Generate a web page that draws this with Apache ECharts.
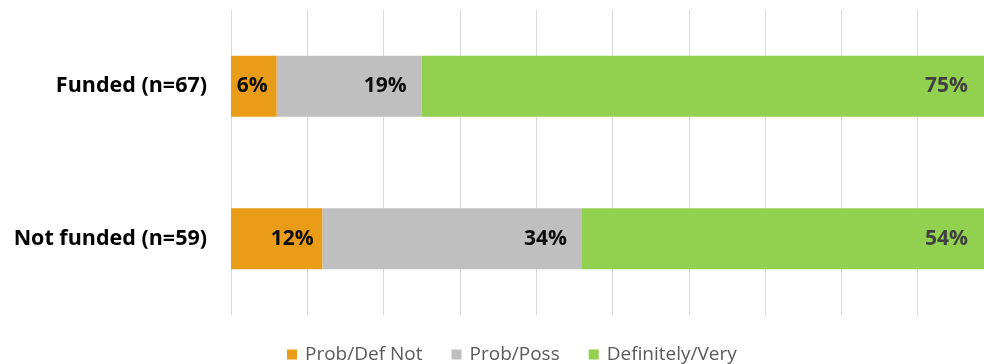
<!DOCTYPE html>
<html>
<head>
<meta charset="utf-8">
<style>
  html, body { margin: 0; padding: 0; background: #ffffff; }
  #chart { width: 984px; height: 364px; }
</style>
<script src="https://cdn.jsdelivr.net/npm/echarts@6/dist/echarts.min.js"></script>
</head>
<body>
<div id="chart"></div>
<script>
// Likelihood of continuing, by funding status (percent of respondents)
const categories = ['Funded (n=67)', 'Not funded (n=59)'];
const seriesNames = ['Prob/Def Not', 'Prob/Poss', 'Definitely/Very'];
const probDefNot = [6, 12];
const probPoss = [19, 34];
const definitelyVery = [75, 54];

const FONT = '"Open Sans", "Noto Sans", sans-serif';

function barSeries(name, values, color, labelColor, dist) {
  return {
    name: name,
    type: 'bar',
    stack: 'total',
    barWidth: '40%',
    data: values,
    itemStyle: { color: color },
    label: {
      show: true,
      position: 'insideRight',
      distance: dist,
      formatter: p => p.value + '%',
      color: labelColor,
      fontFamily: FONT,
      fontWeight: 'bold',
      fontSize: 21
    },
    emphasis: { disabled: true }
  };
}

const chart = echarts.init(document.getElementById('chart'), null, { renderer: 'canvas' });
chart.setOption({
  animation: false,
  legend: {
    left: 282,
    top: 340,
    itemWidth: 10,
    itemHeight: 10,
    itemGap: 29,
    icon: 'rect',
    textStyle: { fontFamily: FONT, fontSize: 19, color: '#595959', padding: [0, 0, 0, 3] },
    data: seriesNames
  },
  // the plot runs 10px past the right edge of the canvas
  grid: {
    left: 231, top: 10, width: 763, height: 305,
    containLabel: false,
    outerBoundsMode: 'none'
  },
  xAxis: {
    type: 'value',
    min: 0,
    max: 100,
    interval: 10,
    axisLabel: { show: false },
    axisLine: { show: false },
    axisTick: { show: false },
    splitLine: { show: true, lineStyle: { color: '#D9D9D9', width: 1 } }
  },
  yAxis: {
    type: 'category',
    inverse: true,
    data: categories,
    axisLine: { show: false },
    axisTick: { show: false },
    axisLabel: {
      margin: 24,
      color: '#000000',
      fontFamily: FONT,
      fontWeight: 'bold',
      fontSize: 21.5
    }
  },
  series: [
    barSeries(seriesNames[0], probDefNot, '#E99C17', '#0D0D0D', 9),
    barSeries(seriesNames[1], probPoss, '#BFBFBF', '#0D0D0D', 15),
    barSeries(seriesNames[2], definitelyVery, '#92D050', '#404040', 26)
  ]
});
</script>
</body>
</html>
